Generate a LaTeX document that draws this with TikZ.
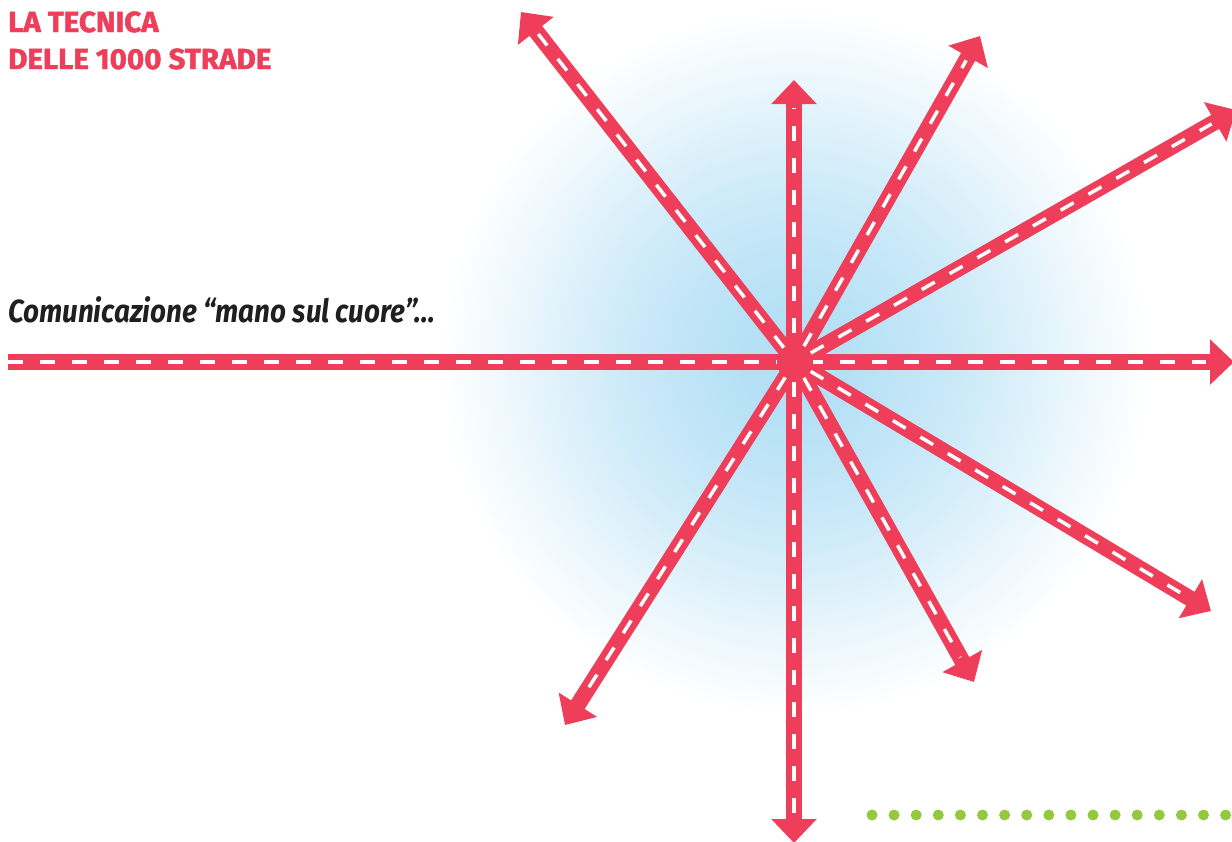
\documentclass[tikz,border=0pt]{standalone}
\usepackage{fontspec}
\setmainfont{Fira Sans}
\newfontfamily\leadfont{Fira Sans}[FakeStretch=0.87]
\newfontfamily\titlefont{Fira Sans}[FakeBold=1.6, FakeStretch=1.02]
\usetikzlibrary{arrows.meta}
\definecolor{roadred}{HTML}{EE3E5A}
\definecolor{glowblue}{HTML}{B2DFF5}
\definecolor{dotgreen}{HTML}{94C83D}
\pgfdeclareradialshading{glow}{\pgfpoint{0bp}{0bp}}{color(0bp)=(glowblue);
  color(4bp)=(glowblue!95!white); color(12bp)=(glowblue!66!white);
  color(19bp)=(glowblue!30!white); color(25bp)=(white); color(50bp)=(white)}

\begin{document}
\begin{tikzpicture}[x=1pt, y=-1pt,
  head/.tip={Triangle[length=24pt, width=44pt]},
  road/.style={draw=roadred, line width=16pt, -head},
  lane/.style={draw=white, line width=3.5pt, dash pattern=on 15pt off 17pt,
               dash phase=14pt, shorten >=28pt},
  title/.style={anchor=base west, inner sep=0pt, text=roadred,
                font=\titlefont\bfseries\fontsize{29}{34}\selectfont}]
  \useasboundingbox (0,0) rectangle (1232,841);

  % glow behind the crossing
  \coordinate (c) at (795,362);
  \begin{scope}
    \clip (0,0) rectangle (1232,841);
    \shade[shading=glow] (c) circle (355pt);
  \end{scope}

  % road ends
  \coordinate (w)   at (8,362);
  \coordinate (e)   at (1234,362);
  \coordinate (n)   at (794,80);
  \coordinate (s)   at (794,843);
  \coordinate (nw)  at (521,12);
  \coordinate (ne)  at (980,36);
  \coordinate (ene) at (1236,110);
  \coordinate (ese) at (1211,611);
  \coordinate (sse) at (974,682);
  \coordinate (ssw) at (565,725);

  % roads
  \draw[road] (w) -- (e);
  \draw[road, head-head] (n) -- (s);
  \foreach \t in {nw,ne,ene,ese,sse,ssw}
    \draw[road] (c) -- (\t);

  % lane markings
  \draw[lane, dash phase=0pt] (w) -- (e);
  \draw[lane, shorten <=28pt] (n) -- (s);
  \foreach \t in {nw,ne,ene,ese,sse,ssw}
    \draw[lane] (c) -- (\t);

  \node[circle, fill=roadred, minimum size=36pt, inner sep=0pt] (hub) at (c) {};

  % texts
  \node[title] (t1) at (8,32) {LA TECNICA};
  \node[title] (t2) at (8,69) {DELLE 1000 STRADE};
  \node[anchor=base west, inner sep=0pt, text=black!88,
        font=\leadfont\bfseries\itshape\fontsize{32}{38}\selectfont] (lead)
    at (8,322) {Comunicazione “mano sul cuore”...};

  % green dots
  \coordinate (g0) at (872,815);
  \coordinate (g1) at (1240,815);
  \draw[dotgreen, line width=11pt, line cap=round, dash pattern=on 0pt off 22.1pt]
    (g0) -- (g1);
\end{tikzpicture}
\end{document}
